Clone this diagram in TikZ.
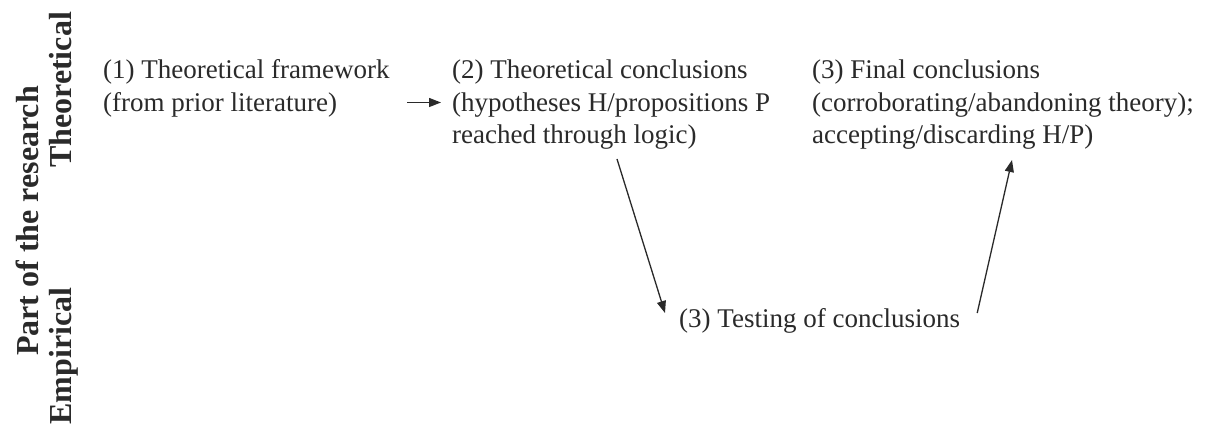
\documentclass[tikz,border=0pt]{standalone}
\usepackage{fontspec}
\setmainfont{Liberation Serif}
\usetikzlibrary{arrows.meta}
\definecolor{ink}{HTML}{2A2A2A}
\tikzset{
  txt/.style={inner sep=0pt, anchor=base west, text=ink, font=\fontsize{27}{32}\selectfont},
  lbl/.style={inner sep=0pt, rotate=90, anchor=base, text=ink, font=\fontsize{32}{38}\selectfont\bfseries},
  arr/.style={draw=ink, line width=1.3pt, -{Triangle[length=12pt,width=9pt]}}
}
\begin{document}
\begin{tikzpicture}[x=1pt,y=-1pt]
\useasboundingbox[fill=white] (0,0) rectangle (1208,427);
% side labels
\node[lbl] (part) at (38,221) {Part of the research};
\node[lbl] (theo) at (71,90) {Theoretical};
\node[lbl] (emp) at (71,356) {Empirical};
% box 1
\node[txt] (n1a) at (103,79) {(1) Theoretical framework};
\node[txt] (n1b) at (103,111.5) {(from prior literature)};
% box 2
\node[txt] (n2a) at (452,79) {(2) Theoretical conclusions};
\node[txt] (n2b) at (452,111.5) {(hypotheses H/propositions P};
\node[txt] (n2c) at (452,144) {reached through logic)};
% box 3
\node[txt] (n3a) at (812,79) {(3) Final conclusions};
\node[txt] (n3b) at (812,111.5) {(corroborating/abandoning theory);};
\node[txt] (n3c) at (812,144) {accepting/discarding H/P)};
% testing
\node[txt] (t) at (679,328) {(3) Testing of conclusions};
% connectors
\draw[arr] ([shift={(70,-9)}]n1b.base east) -- ([shift={(-11,-9)}]n2b.base west);
\draw[arr] ([shift={(165,15)}]n2c.base west) -- ([shift={(-14,-15)}]t.base west);
\draw[arr] ([shift={(17,-15)}]t.base east) -- ([shift={(200,16)}]n3c.base west);
\end{tikzpicture}
\end{document}
